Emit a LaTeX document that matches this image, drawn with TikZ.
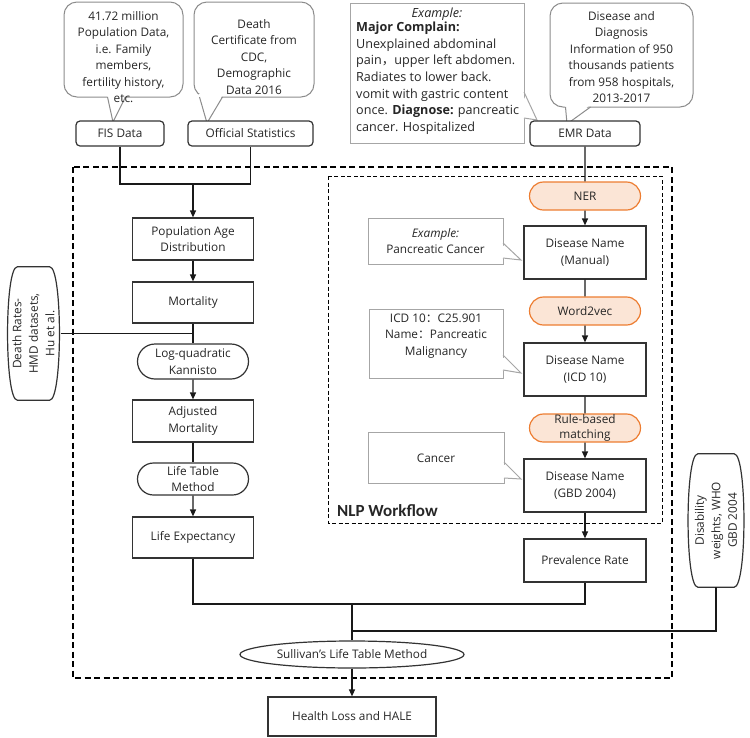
\documentclass[tikz,border=0pt]{standalone}
\usepackage{fontspec}
\setmainfont{Open Sans}
\newfontfamily\cjk{Noto Sans CJK SC}
\newfontfamily\nlpfont{Carlito}
\usetikzlibrary{arrows.meta,shapes.geometric,shapes.misc}
\definecolor{orfill}{HTML}{FBE5D6}
\definecolor{ordraw}{HTML}{ED7D31}
\definecolor{graybd}{HTML}{A6A6A6}
\definecolor{boxbd}{HTML}{333333}
\begin{document}
\begin{tikzpicture}[x=1pt,y=-1pt,
  every node/.style={font=\fontsize{11.8}{16.5}\selectfont, inner sep=0pt, align=center, text=black!85},
  box/.style={draw=boxbd, line width=1.2pt, fill=white, rectangle},
  rbox/.style={box, rounded corners=4pt},
  stad/.style={draw=boxbd, line width=1.2pt, fill=white, rounded rectangle},
  orstad/.style={draw=ordraw, line width=1.2pt, fill=orfill, rounded rectangle},
  bubble/.style={draw=black!45, line width=1pt, fill=white, rectangle, rounded corners=13pt},
  gcall/.style={draw=graybd, line width=1pt, fill=white, rectangle},
  conn/.style={line width=1.2pt, draw=black!90},
  arr/.style={conn, -{Triangle[length=7pt,width=6pt]}},
  outerdash/.style={line width=1.5pt, dash pattern=on 6pt off 3.5pt},
  innerdash/.style={line width=1pt, dash pattern=on 4pt off 2.5pt},
]
\useasboundingbox (0,0) rectangle (750,737);

% dashed frames
\draw[outerdash] (73,167) rectangle (672,678);
\draw[innerdash] (328,176) rectangle (662,523);

% ---------- top callouts
\node[bubble, minimum width=119pt, minimum height=95pt] (fisc) at (123.5,49.5) {};
\fill[white] (107,94) -- (113,122) -- (126,94) -- cycle;
\draw[draw=black!45, line width=1pt] (107.5,97) -- (113,122) -- (125.5,97);
\node (fisct) at (123.5,57) {41.72 million\\Population Data,\\i.e. Family\\members,\\fertility history,\\etc.};

\node[bubble, minimum width=120pt, minimum height=95pt] (offc) at (254,49.5) {};
\fill[white] (199,94) -- (207,123) -- (223,94) -- cycle;
\draw[draw=black!45, line width=1pt] (199.5,97) -- (207,123) -- (222.5,97);
\node (offct) at (254,57) {Death\\Certificate from\\CDC,\\Demographic\\Data 2016};

\node[gcall, minimum width=174pt, minimum height=140pt] (exc) at (437,73) {};
\fill[white] (521,92) -- (537,120) -- (521,118) -- cycle;
\draw[draw=graybd, line width=1pt] (524,92) -- (537,120) -- (524,118);
\node[font=\fontsize{12.6}{16.6}\selectfont] (exct1) at (437,14) {\textit{Example:}};
\node[anchor=north west, align=left, font=\fontsize{12.6}{16.6}\selectfont] (exct2) at (356,22) {\textbf{Major Complain:}\\Unexplained abdominal\\pain{\cjk ，}upper left abdomen.\\Radiates to lower back.\\vomit with gastric content\\once. \textbf{Diagnose:} pancreatic\\cancer. Hospitalized};

\node[bubble, minimum width=143pt, minimum height=104pt] (disc) at (621.5,55) {};
\fill[white] (565,104) -- (567,124) -- (591,104) -- cycle;
\draw[draw=black!45, line width=1pt] (565.5,107) -- (567,124) -- (590.5,107);
\node (disct) at (621.5,57) {Disease and\\Diagnosis\\Information of 950\\thousands patients\\from 958 hospitals,\\2013-2017};

% ---------- data boxes
\node[rbox, minimum width=88pt, minimum height=25pt] (fis) at (120,133.5) {FIS Data};
\node[rbox, minimum width=125pt, minimum height=25pt] (offs) at (250.5,133.5) {Official Statistics};
\node[rbox, minimum width=110pt, minimum height=25pt] (emr) at (585,133.5) {EMR Data};

% ---------- left column
\node[box, minimum width=121pt, minimum height=42pt] (pad) at (193,239) {Population Age\\Distribution};
\node[box, minimum width=121pt, minimum height=41pt] (mort) at (193,302.5) {Mortality};
\node[stad, minimum width=111pt, minimum height=35pt] (lqk) at (193,361.5) {Log-quadratic\\Kannisto};
\node[box, minimum width=121pt, minimum height=42pt] (adj) at (193,421) {Adjusted\\Mortality};
\node[stad, minimum width=111pt, minimum height=32pt] (ltm) at (193,479) {Life Table\\Method};
\node[box, minimum width=121pt, minimum height=41pt] (le) at (193,537.5) {Life Expectancy};

% side sources
\node[minimum width=54pt, minimum height=133pt] (death) at (33.5,333.5) {};
\draw[draw=boxbd, line width=1.2pt, fill=white]
  ([xshift=11pt]death.north west) -- ([xshift=-11pt]death.north east)
  .. controls ([xshift=2pt]death.north east) and ([xshift=2pt]death.south east) .. ([xshift=-11pt]death.south east)
  -- ([xshift=11pt]death.south west)
  .. controls ([xshift=-2pt]death.south west) and ([xshift=-2pt]death.north west) .. cycle;
\node[rotate=90] (deatht) at (33.5,333.5) {Death Rates-\\HMD datasets,\\Hu et al.};

\node[minimum width=58pt, minimum height=133pt] (disab) at (716,520.5) {};
\draw[draw=boxbd, line width=1.2pt, fill=white]
  ([xshift=11pt]disab.north west) -- ([xshift=-11pt]disab.north east)
  .. controls ([xshift=2pt]disab.north east) and ([xshift=2pt]disab.south east) .. ([xshift=-11pt]disab.south east)
  -- ([xshift=11pt]disab.south west)
  .. controls ([xshift=-2pt]disab.south west) and ([xshift=-2pt]disab.north west) .. cycle;
\node[rotate=90] (disabt) at (716,520.5) {Disability\\weights, WHO\\GBD 2004};

% ---------- right column
\node[orstad, minimum width=111pt, minimum height=28pt] (ner) at (585,196) {NER};
\node[box, minimum width=122pt, minimum height=53pt] (dnm) at (585,252.5) {Disease Name\\(Manual)};
\node[orstad, minimum width=111pt, minimum height=28pt] (w2v) at (585,311) {Word2vec};
\node[box, minimum width=122pt, minimum height=53pt] (dni) at (585,369.5) {Disease Name\\(ICD 10)};
\node[orstad, minimum width=111pt, minimum height=28pt, font=\fontsize{11.8}{15.5}\selectfont] (rbm) at (585,428) {Rule-based\\matching};
\node[box, minimum width=122pt, minimum height=53pt] (dng) at (585,485.5) {Disease Name\\(GBD 2004)};
\node[box, minimum width=122pt, minimum height=43pt] (prev) at (585,560.5) {Prevalence Rate};

% gray callouts
\node[gcall, minimum width=135pt, minimum height=46pt] (c1) at (435.5,241) {\textit{Example:}\\Pancreatic Cancer};
\fill[white] (500,243) -- (521,260) -- (500,258) -- cycle;
\draw[draw=graybd, line width=1pt] (503,243) -- (521,260) -- (503,258);

\node[gcall, minimum width=134pt, minimum height=69pt] (c2) at (436,343.5) {};
\node (c2t) at (436,336) {ICD 10{\cjk ：}C25.901\\Name{\cjk ：}Pancreatic\\Malignancy};
\fill[white] (500,355) -- (521,373) -- (500,370) -- cycle;
\draw[draw=graybd, line width=1pt] (503,355) -- (521,373) -- (503,370);

\node[gcall, minimum width=136pt, minimum height=51pt] (c3) at (436,457.5) {};
\node (c3t) at (436,458) {Cancer};
\fill[white] (501,462) -- (521,479) -- (501,478) -- cycle;
\draw[draw=graybd, line width=1pt] (504,462) -- (521,479) -- (504,478);

\node[anchor=west, font=\nlpfont\bfseries\fontsize{17}{20}\selectfont] (nlp) at (337,511) {NLP Workflow};

% bottom
\node[ellipse, draw=boxbd, line width=1.2pt, fill=white, minimum width=224pt, minimum height=27pt] (sull) at (352,654.5) {Sullivan's Life Table Method};
\node[box, minimum width=168pt, minimum height=39pt] (hale) at (352,716.5) {Health Loss and HALE};

% ---------- connectors
\coordinate (j1) at (193,184);
\coordinate (j2) at (352,604);
\coordinate (j3) at (352,631);
\draw[conn] (fis) -- (fis |- j1) -- (offs |- j1) -- (offs);
\draw[arr] (j1) -- (pad);
\draw[arr] (pad) -- (mort);
\draw[conn] (death.east) -- (death.east -| mort);
\draw[conn] (mort) -- (lqk);
\draw[arr] (lqk) -- (adj);
\draw[conn] (adj) -- (ltm);
\draw[arr] (ltm) -- (le);
\draw[conn] (le) -- (le |- j2) -- (prev |- j2) -- (prev);
\draw[conn] (disab) -- (disab |- j3) -- (j3);
\draw[conn] (j2) -- (sull);
\draw[arr] (sull) -- (hale);

\draw[conn] (emr) -- (ner);
\draw[arr] (ner) -- (dnm);
\draw[conn] (dnm) -- (w2v);
\draw[arr] (w2v) -- (dni);
\draw[conn] (dni) -- (rbm);
\draw[arr] (rbm) -- (dng);
\draw[arr] (dng) -- (prev);
\end{tikzpicture}
\end{document}
